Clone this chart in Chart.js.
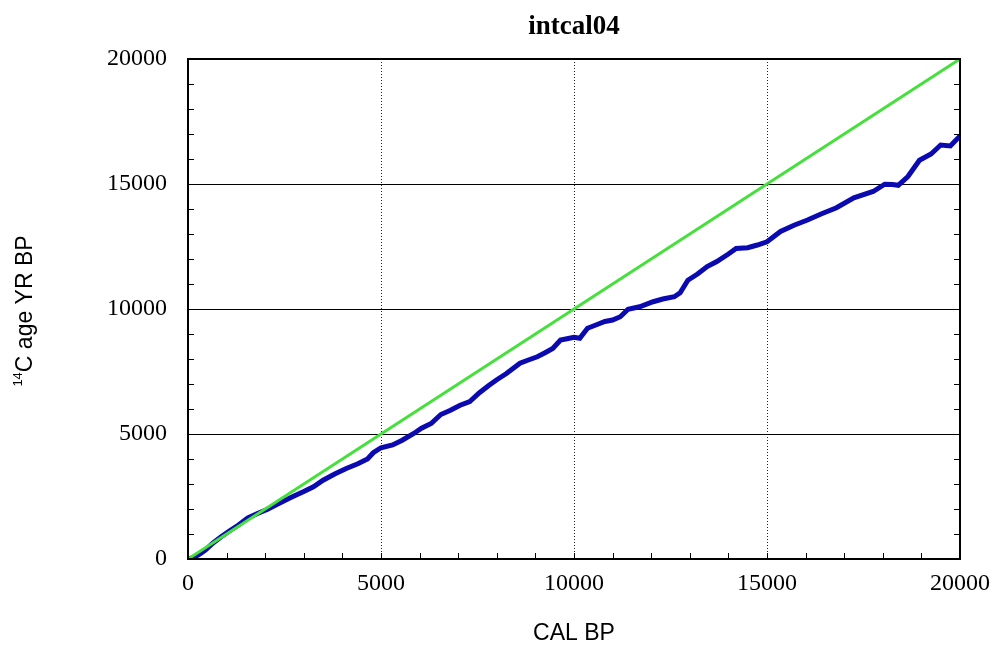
<!DOCTYPE html>
<html lang="en">
<head>
<meta charset="UTF-8">
<title>intcal04</title>
<script src="https://cdn.jsdelivr.net/npm/chart.js@4"></script>
<style>
  body { margin: 0; background: #fff; }
  canvas { display: block; }
</style>
</head>
<body>
<canvas id="calChart" width="992" height="646"></canvas>
<script>
// calibration curve: calendar age vs radiocarbon age
const calBP = [0, 150, 300, 450, 650, 850, 1100, 1300, 1550, 1800, 2050, 2300, 2650, 3000, 3250, 3500,
  3800, 4100, 4400, 4650, 4800, 5000, 5300, 5550, 5850, 6050, 6300, 6550, 6800, 7050, 7300, 7550,
  7800, 8000, 8250, 8600, 8800, 9050, 9250, 9450, 9650, 9850, 10000, 10150, 10350, 10600, 10800,
  11000, 11200, 11400, 11700, 12050, 12300, 12600, 12750, 12950, 13200, 13450, 13700, 14000, 14200,
  14500, 14750, 15000, 15350, 15700, 16050, 16400, 16800, 17250, 17750, 18050, 18250, 18400, 18650,
  18950, 19250, 19500, 19750, 20000];
const c14Age = [0, 60, 190, 360, 640, 880, 1150, 1350, 1640, 1820, 1980, 2180, 2450, 2700, 2890, 3150,
  3400, 3620, 3810, 4000, 4250, 4450, 4560, 4750, 5020, 5230, 5420, 5780, 5950, 6150, 6300, 6650,
  6950, 7170, 7420, 7830, 7950, 8090, 8250, 8420, 8760, 8820, 8870, 8830, 9230, 9380, 9500,
  9560, 9690, 9990, 10090, 10290, 10400, 10490, 10650, 11150, 11400, 11700, 11900, 12200, 12420,
  12450, 12560, 12690, 13100, 13350, 13560, 13800, 14050, 14450, 14700, 14990, 14980, 14950, 15300,
  15950, 16200, 16560, 16520, 16920];

// 1:1 reference line
const refX = [0, 20000];
const refY = [0, 20000];

const axisLabels = [0, 5000, 10000, 15000, 20000];
const gridAt = [5000, 10000, 15000];

const curve = calBP.map((v, i) => ({ x: v, y: c14Age[i] }));
const ref = refX.map((v, i) => ({ x: v, y: refY[i] }));

const frame = {
  id: 'frame',
  afterDraw(chart) {
    const { ctx, chartArea: a, scales: { x, y } } = chart;
    ctx.save();
    ctx.strokeStyle = '#000';
    ctx.lineWidth = 1;
    ctx.beginPath();
    for (let v = 0; v <= 20000; v += 1000) {
      const px = Math.round(x.getPixelForValue(v)) + 0.5;
      ctx.moveTo(px, a.bottom);
      ctx.lineTo(px, a.bottom - 6);
      const py = Math.round(y.getPixelForValue(v)) + 0.5;
      ctx.moveTo(a.left, py);
      ctx.lineTo(a.left + 6, py);
      ctx.moveTo(a.right, py);
      ctx.lineTo(a.right - 6, py);
    }
    ctx.stroke();
    ctx.lineWidth = 2;
    ctx.strokeRect(a.left, a.top, a.width, a.height);

    ctx.fillStyle = '#000';
    ctx.textAlign = 'center';
    ctx.textBaseline = 'alphabetic';
    ctx.font = 'bold 27px "Liberation Serif"';
    ctx.fillText('intcal04', (a.left + a.right) / 2, 34);

    ctx.font = '23px "Liberation Sans"';
    ctx.fillText('CAL BP', (a.left + a.right) / 2, 640);

    // rotated y title with superscript mass number
    ctx.translate(32, 311);
    ctx.rotate(-Math.PI / 2);
    ctx.textAlign = 'left';
    ctx.font = '13px "Liberation Sans"';
    const w1 = ctx.measureText('14').width;
    ctx.font = '23px "Liberation Sans"';
    const w2 = ctx.measureText('C age YR BP').width;
    const start = -(w1 + w2) / 2;
    ctx.fillText('C age YR BP', start + w1, 0);
    ctx.font = '13px "Liberation Sans"';
    ctx.fillText('14', start, -10);
    ctx.restore();
  }
};

new Chart(document.getElementById('calChart'), {
  type: 'scatter',
  data: {
    datasets: [
      {
        data: ref,
        showLine: true,
        borderColor: '#46e03c',
        borderWidth: 3,
        pointRadius: 0,
        order: 0
      },
      {
        data: curve,
        showLine: true,
        borderColor: '#0a0ab0',
        borderWidth: 5,
        pointRadius: 0,
        order: 1
      }
    ]
  },
  options: {
    responsive: false,
    animation: false,
    layout: { padding: { left: 0, top: 59, right: 32, bottom: 0 } },
    plugins: { legend: { display: false }, tooltip: { enabled: false }, title: { display: false } },
    scales: {
      x: {
        type: 'linear',
        min: 0,
        max: 20000,
        afterFit(s) { s.height = 87; s.paddingLeft = 0; s.paddingRight = 0; },
        border: { display: false, dash: [1, 2] },
        grid: {
          drawTicks: false,
          lineWidth: 1,
          color: c => gridAt.includes(c.tick.value) ? '#222' : 'rgba(0,0,0,0)'
        },
        ticks: {
          stepSize: 1000,
          autoSkip: false,
          maxRotation: 0,
          padding: 10,
          color: '#000',
          font: { family: '"Liberation Serif"', size: 24 },
          callback: v => axisLabels.includes(v) ? String(v) : ''
        }
      },
      y: {
        type: 'linear',
        min: 0,
        max: 20000,
        afterFit(s) { s.width = 188; s.paddingTop = 0; s.paddingBottom = 0; },
        border: { display: false },
        grid: {
          drawTicks: false,
          lineWidth: 1,
          color: c => gridAt.includes(c.tick.value) ? '#000' : 'rgba(0,0,0,0)'
        },
        ticks: {
          stepSize: 1000,
          autoSkip: false,
          padding: 21,
          color: '#000',
          font: { family: '"Liberation Serif"', size: 24 },
          callback: v => axisLabels.includes(v) ? String(v) : ''
        }
      }
    }
  },
  plugins: [frame]
});
</script>
</body>
</html>
